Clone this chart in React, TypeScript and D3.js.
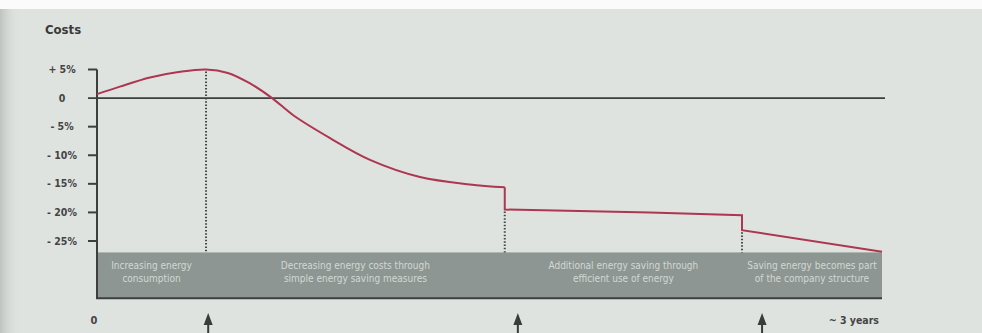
import React from "react";
import * as d3 from "d3";

// Cost development over roughly three years, in months from the start
const curveMonths = [0, 1.05, 2.43, 3.81, 5.0, 6.0, 7.0, 8.03, 9.0, 10.69, 12.52, 14.81, 17.1, 18.7];
const curveCosts = [0.7, 2.0, 3.6, 4.6, 5.0, 4.4, 2.6, 0, -3.0, -7.0, -10.8, -13.8, -15.1, -15.6];

// Later phases: sharp drops followed by near-flat stretches
const stepMonths = [18.7, 18.7, 25.36, 29.58, 29.58, 36];
const stepCosts = [-15.6, -19.5, -20.0, -20.5, -23.1, -26.9];

// Phase boundaries (months) and their labels
const phaseBounds = [0, 5.0, 18.7, 29.58, 36];
const boundaryCosts = [5.0, -19.5, -23.1];
const phaseLabels = [
  ["Increasing energy", "consumption"],
  ["Decreasing energy costs through", "simple energy saving measures"],
  ["Additional energy saving through", "efficient use of energy"],
  ["Saving energy becomes part", "of the company structure"],
];

// Milestone arrows below the timeline
const arrowMonths = [5.1, 19.3, 30.5];

const tickValues = [5, 0, -5, -10, -15, -20, -25];
const tickLabels = ["+ 5%", "0", "- 5%", "- 10%", "- 15%", "- 20%", "- 25%"];

const W = 982;
const H = 333;
const bandTopValue = -27;
const bandBottomValue = -35;

const FONT = "'DejaVu Sans Condensed', 'Liberation Sans', sans-serif";

export default function App() {
  const x = d3.scaleLinear().domain([0, 36]).range([97, 882]);
  const y = d3.scaleLinear().domain([5, -25]).range([69.5, 241]);

  const smooth = d3
    .line<number>()
    .x((_, i) => x(curveMonths[i]))
    .y((v) => y(v))
    .curve(d3.curveCatmullRom.alpha(0.5))(curveCosts) as string;

  const steps = d3
    .line<number>()
    .x((_, i) => x(stepMonths[i]))
    .y((v) => y(v))(stepCosts) as string;

  const bandTop = y(bandTopValue);
  const bandBottom = y(bandBottomValue);
  const lineColor = "#ad3650";

  return (
    <svg
      width={W}
      height={H}
      style={{ position: "absolute", left: 0, top: 0, display: "block" }}
    >
      <defs>
        <linearGradient id="gutter" x1="0" x2="1" y1="0" y2="0">
          <stop offset="0" stopColor="#bfc3bf" />
          <stop offset="1" stopColor="#dfe3df" stopOpacity="0" />
        </linearGradient>
      </defs>
      <rect x={0} y={0} width={W} height={H} fill="#dfe3df" />
      <rect x={0} y={0} width={20} height={H} fill="url(#gutter)" />
      <rect x={0} y={0} width={W} height={9} fill="#fbfbfb" />

      <text x={45} y={34} fontFamily={FONT} fontSize={13} fontWeight="bold" fill="#3a3a3a">
        Costs
      </text>

      {/* phase band */}
      <rect
        x={x(0) - 1}
        y={bandTop}
        width={x(36) - x(0) + 1}
        height={bandBottom - bandTop}
        fill="#8d9692"
      />
      <line x1={x(0) - 1} x2={x(36)} y1={bandBottom} y2={bandBottom} stroke="#3c3f3d" strokeWidth={2} />
      {phaseLabels.map((lines, i) => {
        const cx = (x(phaseBounds[i]) + x(phaseBounds[i + 1])) / 2;
        return (
          <text
            key={i}
            x={cx}
            textAnchor="middle"
            fontFamily={FONT}
            fontSize={10}
            fill="#d3d8d4"
          >
            <tspan x={cx} y={bandTop + 17}>{lines[0]}</tspan>
            <tspan x={cx} y={bandTop + 30}>{lines[1]}</tspan>
          </text>
        );
      })}

      {/* y axis */}
      <line x1={x(0)} x2={x(0)} y1={y(5)} y2={bandBottom} stroke="#3c3f3d" strokeWidth={2} />
      {tickValues.map((t, i) => (
        <g key={t}>
          <line
            x1={88}
            x2={t === 0 ? 885 : x(0)}
            y1={y(t)}
            y2={y(t)}
            stroke="#3c3f3d"
            strokeWidth={t === 0 ? 1.6 : 2}
          />
          <text
            x={62}
            y={y(t) + 3.5}
            textAnchor="middle"
            fontFamily={FONT}
            fontSize={10.5}
            fontWeight="bold"
            fill="#444"
          >
            {tickLabels[i]}
          </text>
        </g>
      ))}

      {/* dotted phase boundaries */}
      {boundaryCosts.map((v, i) => (
        <line
          key={i}
          x1={x(phaseBounds[i + 1])}
          x2={x(phaseBounds[i + 1])}
          y1={y(v) + 2}
          y2={bandTop}
          stroke="#454846"
          strokeWidth={2}
          strokeDasharray="1.5 1.8"
        />
      ))}

      {/* cost curve */}
      <path d={smooth} fill="none" stroke={lineColor} strokeWidth={2} strokeLinejoin="round" />
      <path d={steps} fill="none" stroke={lineColor} strokeWidth={2} strokeLinejoin="miter" />

      {/* time axis labels */}
      <text x={x(0) - 3} y={324} textAnchor="middle" fontFamily={FONT} fontSize={11} fontWeight="bold" fill="#444">
        0
      </text>
      <text x={879} y={324} textAnchor="end" fontFamily={FONT} fontSize={10.5} fontWeight="bold" fill="#444">
        ~ 3 years
      </text>

      {arrowMonths.map((m, i) => {
        const ax = x(m);
        return (
          <g key={i} fill="#3a3c3b">
            <path d={`M${ax},313 L${ax + 4.5},325 L${ax - 4.5},325 Z`} />
            <rect x={ax - 1} y={324} width={2} height={10} />
          </g>
        );
      })}
    </svg>
  );
}
